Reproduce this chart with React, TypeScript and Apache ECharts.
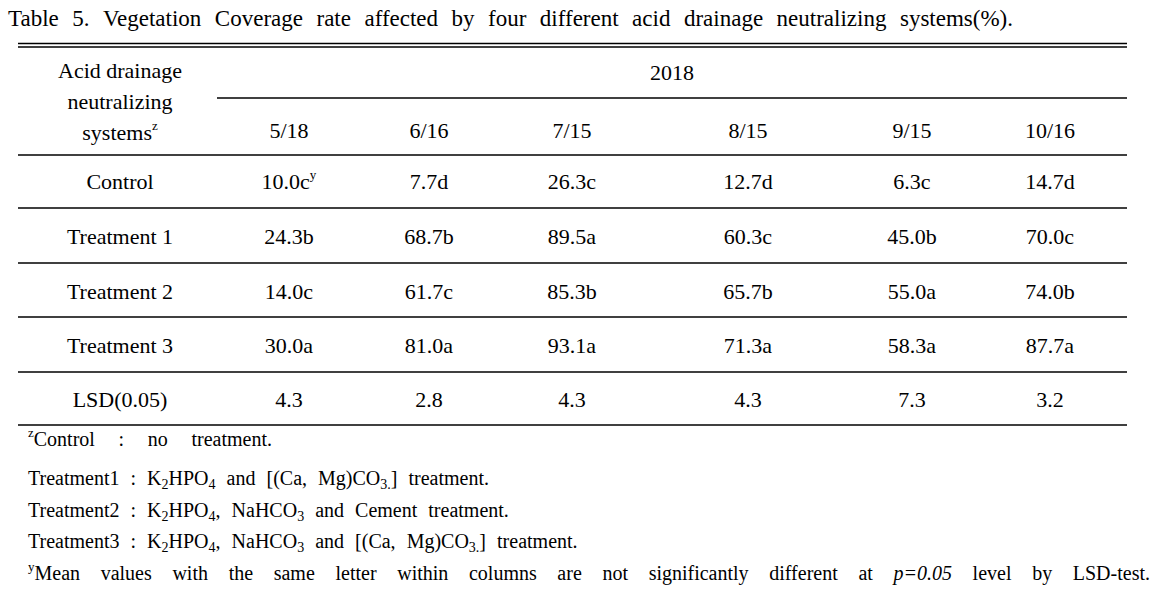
import React, { useEffect, useRef } from "react";
import * as echarts from "echarts";

// ---------- data ----------
const titleText =
  "Table 5. Vegetation Coverage rate affected by four different acid drainage neutralizing systems(%).";
const stubHeader = ["Acid drainage", "neutralizing", "systems"];
const stubSup = "z";
const yearLabel = "2018";
const dates = ["5/18", "6/16", "7/15", "8/15", "9/15", "10/16"];
const rowLabels = ["Control", "Treatment 1", "Treatment 2", "Treatment 3"];
const controlValues = [10.0, 7.7, 26.3, 12.7, 6.3, 14.7];
const controlLetters = ["c", "d", "c", "d", "c", "d"];
const t1Values = [24.3, 68.7, 89.5, 60.3, 45.0, 70.0];
const t1Letters = ["b", "b", "a", "c", "b", "c"];
const t2Values = [14.0, 61.7, 85.3, 65.7, 55.0, 74.0];
const t2Letters = ["c", "c", "b", "b", "a", "b"];
const t3Values = [30.0, 81.0, 93.1, 71.3, 58.3, 87.7];
const t3Letters = ["a", "a", "a", "a", "a", "a"];
const lsdLabel = "LSD(0.05)";
const lsdValues = [4.3, 2.8, 4.3, 4.3, 7.3, 3.2];

type Seg = { t: string; k?: "n" | "sub" | "sup" | "i" };
const footnotes: Seg[][] = [
  [{ t: "z", k: "sup" }, { t: "Control : no treatment." }],
  [
    { t: "Treatment1 : K" }, { t: "2", k: "sub" }, { t: "HPO" }, { t: "4", k: "sub" },
    { t: " and [(Ca, Mg)CO" }, { t: "3.", k: "sub" }, { t: "] treatment." },
  ],
  [
    { t: "Treatment2 : K" }, { t: "2", k: "sub" }, { t: "HPO" }, { t: "4", k: "sub" },
    { t: ", NaHCO" }, { t: "3", k: "sub" }, { t: " and Cement treatment." },
  ],
  [
    { t: "Treatment3 : K" }, { t: "2", k: "sub" }, { t: "HPO" }, { t: "4", k: "sub" },
    { t: ", NaHCO" }, { t: "3", k: "sub" }, { t: " and [(Ca, Mg)CO" }, { t: "3.", k: "sub" },
    { t: "] treatment." },
  ],
  [
    { t: "y", k: "sup" },
    { t: "Mean values with the same letter within columns are not significantly different at " },
    { t: "p=0.05", k: "i" },
    { t: " level by LSD-test." },
  ],
];

// ---------- layout ----------
const FAMILY = "Liberation Serif";
const FS = 22;
const FOOT_FS = 20;
const TITLE_FS = 23;
const SUB = 14;
const SUP = 13;
const colX = [289, 429, 572, 748, 912, 1050];
const stubX = 120;
const tableLeft = 18;
const tableRight = 1127;
const spanLeft = 217;
const headerYs = [70, 101, 132];
const yearY = 72;
const dateY = 130;
const rowYs = [181, 236, 291, 345, 399];
const lineYs = [155, 208, 263, 317, 372, 425];
const footX = 28;
const footYs = [439, 478, 510, 541, 573];
const line1End = 272;
const line2End = 489;
const line5End = 1150;
const titleX0 = 8;
const titleX1 = 1013;
const titleY = 18;

function makeRich(fs: number) {
  return {
    n: { fontSize: fs, fontFamily: FAMILY, color: "#000", lineHeight: 26 },
    i: { fontSize: fs, fontFamily: FAMILY, color: "#000", fontStyle: "italic", lineHeight: 26 },
    sub: { fontSize: SUB, fontFamily: FAMILY, color: "#000", lineHeight: 16, verticalAlign: "bottom" },
    sup: { fontSize: SUP, fontFamily: FAMILY, color: "#000", lineHeight: 14, verticalAlign: "top" },
  };
}

let ctx: CanvasRenderingContext2D | null = null;
function measure(segs: Seg[], fs: number): number {
  if (!ctx) ctx = document.createElement("canvas").getContext("2d");
  let w = 0;
  for (const s of segs) {
    const k = s.k || "n";
    const size = k === "sub" ? SUB : k === "sup" ? SUP : fs;
    ctx!.font = `${k === "i" ? "italic " : ""}${size}px "${FAMILY}"`;
    w += ctx!.measureText(s.t).width;
  }
  return w;
}
function toRich(segs: Seg[]): string {
  return segs.map((s) => `{${s.k || "n"}|${s.t}}`).join("");
}
function splitWords(segs: Seg[]): Seg[][] {
  const words: Seg[][] = [];
  let cur: Seg[] = [];
  for (const s of segs) {
    const parts = s.t.split(" ");
    parts.forEach((p, idx) => {
      if (idx > 0) {
        if (cur.length) words.push(cur);
        cur = [];
      }
      if (p.length) cur.push({ t: p, k: s.k });
    });
  }
  if (cur.length) words.push(cur);
  return words;
}
function gapFor(segs: Seg[], x0: number, x1: number, fs: number): number {
  const words = splitWords(segs);
  const total = words.reduce((a, w) => a + measure(w, fs), 0);
  return words.length > 1 ? (x1 - x0 - total) / (words.length - 1) : 0;
}
function spaced(segs: Seg[], x0: number, gap: number, y: number, fs: number): any[] {
  const out: any[] = [];
  let x = x0;
  splitWords(segs).forEach((w) => {
    out.push(richEl(w, x, y, fs));
    x += measure(w, fs) + gap;
  });
  return out;
}
function justified(segs: Seg[], x0: number, x1: number, y: number, fs: number): any[] {
  return spaced(segs, x0, gapFor(segs, x0, x1, fs), y, fs);
}
function richEl(segs: Seg[], x: number, y: number, fs = FS) {
  const plain = segs.length === 1 && (segs[0].k || "n") === "n";
  return {
    type: "text",
    x,
    y,
    silent: true,
    style: plain
      ? { text: segs[0].t, align: "left", verticalAlign: "middle", fill: "#000", fontSize: fs, fontFamily: FAMILY }
      : {
          text: toRich(segs),
          align: "left",
          verticalAlign: "middle",
          fill: "#000",
          fontSize: fs,
          fontFamily: FAMILY,
          rich: makeRich(fs),
        },
  };
}
function centred(segs: Seg[], cx: number, y: number, fs = FS) {
  return richEl(segs, cx - measure(segs, fs) / 2, y, fs);
}
function hLine(x1: number, x2: number, y: number, w = 1.6) {
  return {
    type: "line",
    silent: true,
    shape: { x1, y1: y, x2, y2: y },
    style: { stroke: "#000", lineWidth: w },
  };
}

export default function App() {
  const ref = useRef<HTMLDivElement>(null);
  useEffect(() => {
    document.body.style.margin = "0";
    const chart = echarts.init(ref.current!, null, { renderer: "svg" });
    const els: any[] = [];
    els.push(...justified([{ t: titleText }], titleX0, titleX1, titleY, TITLE_FS));
    els.push(hLine(tableLeft, tableRight, 43.5, 1.3));
    els.push(hLine(tableLeft, tableRight, 47, 1.3));
    els.push(hLine(spanLeft, tableRight, 98));
    lineYs.forEach((y) => els.push(hLine(tableLeft, tableRight, y)));
    stubHeader.forEach((h, i) => {
      const segs: Seg[] = [{ t: h }];
      if (i === stubHeader.length - 1) segs.push({ t: stubSup, k: "sup" });
      els.push(centred(segs, stubX, headerYs[i]));
    });
    els.push(centred([{ t: yearLabel }], (spanLeft + tableRight) / 2, yearY));
    dates.forEach((d, i) => els.push(centred([{ t: d }], colX[i], dateY)));
    const vals = [controlValues, t1Values, t2Values, t3Values];
    const lets = [controlLetters, t1Letters, t2Letters, t3Letters];
    rowLabels.forEach((lab, r) => {
      els.push(centred([{ t: lab }], stubX, rowYs[r]));
      vals[r].forEach((v, c) => {
        const segs: Seg[] = [{ t: v.toFixed(1) + lets[r][c] }];
        if (r === 0 && c === 0) segs.push({ t: "y", k: "sup" });
        els.push(centred(segs, colX[c], rowYs[r]));
      });
    });
    els.push(centred([{ t: lsdLabel }], stubX, rowYs[4]));
    lsdValues.forEach((v, c) => els.push(centred([{ t: v.toFixed(1) }], colX[c], rowYs[4])));
    // footnotes
    els.push(...justified(footnotes[0], footX, line1End, footYs[0], FOOT_FS));
    const gap = gapFor(footnotes[1], footX, line2End, FOOT_FS);
    for (let i = 1; i <= 3; i++) els.push(...spaced(footnotes[i], footX, gap, footYs[i], FOOT_FS));
    els.push(...justified(footnotes[4], footX, line5End, footYs[4], FOOT_FS));
    chart.setOption({ animation: false, backgroundColor: "#fff", graphic: { elements: els } });
    return () => chart.dispose();
  }, []);
  return <div ref={ref} style={{ width: 1172, height: 597, background: "#fff" }} />;
}
